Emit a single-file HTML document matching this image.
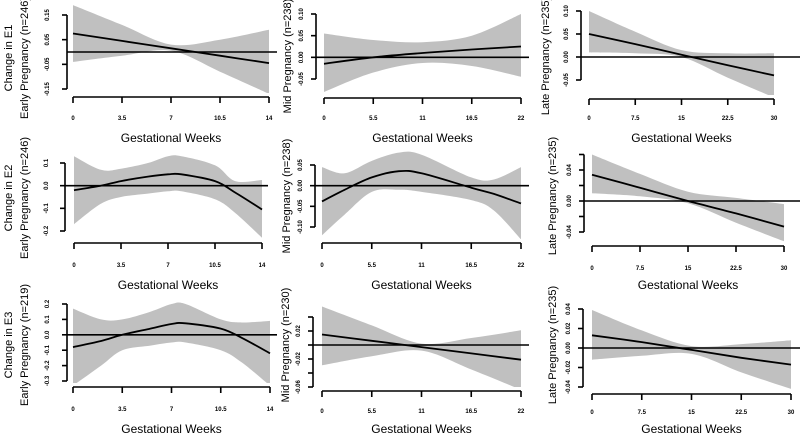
<!DOCTYPE html>
<html><head><meta charset="utf-8"><style>
html,body{margin:0;padding:0;background:#fff}
svg{display:block;font-family:"Liberation Sans",sans-serif}
</style></head><body>
<svg id="fig" width="800" height="439" viewBox="0 0 800 439" xmlns="http://www.w3.org/2000/svg"></svg>
<script>
// ---- data ----
const p1X=[0,3.5,7,10.5,14];
const p1Fit=[0.075,0.045,0.015,-0.015,-0.045];
const p1Up=[0.19,0.11,0.03,0.05,0.09];
const p1Lo=[-0.04,-0.015,0.005,-0.08,-0.17];

const p2X=[0,5.5,11,16.5,22];
const p2Fit=[-0.015,0.0,0.01,0.018,0.025];
const p2Up=[0.055,0.04,0.035,0.05,0.1];
const p2Lo=[-0.08,-0.035,-0.013,-0.02,-0.045];

const p3X=[0,7.5,15,22.5,30];
const p3Fit=[0.05,0.028,0.005,-0.018,-0.04];
const p3Up=[0.1,0.055,0.015,0.008,0.008];
const p3Lo=[0.01,0.008,0.0,-0.045,-0.088];

const p4X=[0,2,3.5,5.5,7,8,10.5,12,14];
const p4Fit=[-0.02,0.0,0.02,0.04,0.05,0.05,0.02,-0.03,-0.105];
const p4Up=[0.13,0.07,0.075,0.1,0.13,0.13,0.09,0.02,0.025];
const p4Lo=[-0.17,-0.08,-0.05,-0.035,-0.025,-0.025,-0.06,-0.12,-0.23];

const p5X=[0,2.5,5.5,8.5,11,16.5,19,22];
const p5Fit=[-0.038,-0.01,0.02,0.035,0.03,-0.005,-0.02,-0.043];
const p5Up=[0.045,0.03,0.06,0.08,0.075,0.02,0.015,0.045];
const p5Lo=[-0.12,-0.07,-0.015,-0.01,-0.015,-0.035,-0.06,-0.13];

const p6X=[0,7.5,15,22.5,30];
const p6Fit=[0.034,0.017,0.0,-0.016,-0.033];
const p6Up=[0.06,0.035,0.012,0.004,-0.004];
const p6Lo=[0.01,0.006,-0.003,-0.028,-0.052];

const p7X=[0,2,3.5,5.5,7,8,10.5,12,14];
const p7Fit=[-0.08,-0.04,0.0,0.04,0.07,0.075,0.04,-0.02,-0.12];
const p7Up=[0.17,0.1,0.1,0.15,0.2,0.2,0.1,0.08,0.09];
const p7Lo=[-0.33,-0.2,-0.1,-0.07,-0.05,-0.05,-0.1,-0.18,-0.33];

const p8X=[0,5.5,11,16.5,22];
const p8Fit=[0.015,0.006,-0.003,-0.012,-0.021];
const p8Up=[0.055,0.028,0.002,0.01,0.021];
const p8Lo=[-0.029,-0.016,-0.008,-0.035,-0.064];

const p9X=[0,7.5,15,22.5,30];
const p9Fit=[0.013,0.006,-0.002,-0.01,-0.017];
const p9Up=[0.039,0.018,0.002,0.004,0.008];
const p9Lo=[-0.012,-0.008,-0.006,-0.025,-0.042];

const xTicksEarly=[0,3.5,7,10.5,14];
const xTicksMid=[0,5.5,11,16.5,22];
const xTicksLate=[0,7.5,15,22.5,30];
const xLabEarly=["0","3.5","7","10.5","14"];
const xLabMid=["0","5.5","11","16.5","22"];
const xLabLate=["0","7.5","15","22.5","30"];

const yT1=[0.15,0.05,-0.05,-0.15], yL1=["0.15","0.05","-0.05","-0.15"];
const yT2=[0.10,0.05,0,-0.05], yL2=["0.10","0.05","0.00","-0.05"];
const yT3=[0.10,0.05,0,-0.05], yL3=["0.10","0.05","0.00","-0.05"];
const yT4=[0.1,0,-0.1,-0.2], yL4=["0.1","0.0","-0.1","-0.2"];
const yT5=[0.05,0,-0.05,-0.10], yL5=["0.05","0.00","-0.05","-0.10"];
const yT6=[0.06,0.04,0.02,0,-0.02,-0.04], yL6=["","0.04","","0.00","","-0.04"];
const yT7=[0.2,0.1,0,-0.1,-0.2,-0.3], yL7=["0.2","0.1","0.0","-0.1","-0.2","-0.3"];
const yT8=[0.04,0.02,0,-0.02,-0.04,-0.06], yL8=["","0.02","","-0.02","","-0.06"];
const yT9=[0.04,0.02,0,-0.02,-0.04], yL9=["0.04","0.02","0.00","-0.02","-0.04"];

// ---- layout ----
const NS="http://www.w3.org/2000/svg";
const svg=document.getElementById('fig');
function mk(tag,attrs,parent){const e=document.createElementNS(NS,tag);for(const k in attrs)e.setAttribute(k,attrs[k]);(parent||svg).appendChild(e);return e;}
function smooth(pts){
  let d="M"+pts[0][0].toFixed(1)+","+pts[0][1].toFixed(1);
  for(let i=0;i<pts.length-1;i++){
    const p0=pts[Math.max(0,i-1)],p1=pts[i],p2=pts[i+1],p3=pts[Math.min(pts.length-1,i+2)];
    const c1=[p1[0]+(p2[0]-p0[0])/6,p1[1]+(p2[1]-p0[1])/6];
    const c2=[p2[0]-(p3[0]-p1[0])/6,p2[1]-(p3[1]-p1[1])/6];
    d+=" C"+c1[0].toFixed(1)+","+c1[1].toFixed(1)+" "+c2[0].toFixed(1)+","+c2[1].toFixed(1)+" "+p2[0].toFixed(1)+","+p2[1].toFixed(1);
  }
  return d;
}
function panel(c){
  const g=mk('g',{});
  
  
  const xs=v=>c.px0+(v-c.xd[0])/(c.xd[1]-c.xd[0])*(c.px1-c.px0);
  const ys=v=>c.yA[1]+(v-c.yA[0])/(c.yB[0]-c.yA[0])*(c.yB[1]-c.yA[1]);
  const clipId='clip'+c.name;
  const cp=mk('clipPath',{id:clipId},g);
  mk('rect',{x:c.axX,y:c.top,width:c.hEnd-c.axX,height:c.xAxY-4-c.top},cp);
  const pg=mk('g',{'clip-path':'url(#'+clipId+')'},g);
  const up=c.X.map((x,i)=>[xs(x),ys(c.up[i])]);
  const lo=c.X.map((x,i)=>[xs(x),ys(c.lo[i])]).reverse();
  let d=smooth(up);
  d+=" L"+lo[0][0].toFixed(1)+","+lo[0][1].toFixed(1)+smooth(lo).replace(/^M[^ C]+/,"")+" Z";
  const band=mk('path',{d:d,fill:'#c0c0c0',stroke:'none'},pg);
  
  
  const zl=mk('line',{x1:c.axX,x2:c.hEnd,y1:ys(0),y2:ys(0),stroke:'#000','stroke-width':1.6},g);
  
  
  const fit=mk('path',{d:smooth(c.X.map((x,i)=>[xs(x),ys(c.fit[i])])),fill:'none',stroke:'#000','stroke-width':1.8},pg);
  
  
  const yv=c.yT.map(ys);
  const ya=mk('g',{},g);
  
  
  mk('line',{x1:c.axX,x2:c.axX,y1:Math.min(...yv),y2:Math.max(...yv),stroke:'#000','stroke-width':1.6},ya);
  c.yT.forEach((t,i)=>{
    mk('line',{x1:c.axX-5,x2:c.axX,y1:ys(t),y2:ys(t),stroke:'#000','stroke-width':1.6},ya);
    if(c.yL[i]){
      const tx=mk('text',{x:c.axX-c.yLabOff,y:ys(t),'font-size':6,'font-weight':'bold','text-anchor':'middle',transform:'rotate(-90 '+(c.axX-c.yLabOff)+' '+ys(t)+')'},ya);
      tx.textContent=c.yL[i];
      
      
    }
  });
  const xa=mk('g',{},g);
  
  
  mk('line',{x1:xs(c.xT[0]),x2:xs(c.xT[c.xT.length-1]),y1:c.xAxY,y2:c.xAxY,stroke:'#000','stroke-width':1.6},xa);
  c.xT.forEach((t,i)=>{
    mk('line',{x1:xs(t),x2:xs(t),y1:c.xAxY,y2:c.xAxY+6,stroke:'#000','stroke-width':1.6},xa);
    const tx=mk('text',{x:xs(t),y:c.xLabY,'font-size':6,'font-weight':'bold','text-anchor':'middle'},xa);
    tx.textContent=c.xL[i];
    
    
  });
  const tt=mk('text',{x:(c.px0+c.px1)/2,y:c.titleY,'font-size':12,'text-anchor':'middle'},g);
  tt.textContent='Gestational Weeks';
  
  
  const yl=mk('text',{x:c.ylx,y:c.yly,'font-size':11,'text-anchor':'middle',transform:'rotate(-90 '+c.ylx+' '+c.yly+')'},g);
  yl.textContent=c.ylab;
  
  
  if(c.outer){
    const ol=mk('text',{x:c.olx,y:c.yly,'font-size':11,'text-anchor':'middle',transform:'rotate(-90 '+c.olx+' '+c.yly+')'},g);
    ol.textContent=c.outer;
    
    
  }
}
panel({name:'panel-e1-early',X:p1X,fit:p1Fit,up:p1Up,lo:p1Lo,xd:[0,14],px0:73,px1:269,yA:[0.15,15],yB:[-0.15,89],axX:67,hEnd:277,top:0,xAxY:97,xLabY:120,titleY:142,yT:yT1,yL:yL1,xT:xTicksEarly,xL:xLabEarly,yLabOff:18,ylab:'Early Pregnancy (n=246)',ylx:28,yly:58,outer:'Change in E1',olx:12});
panel({name:'panel-e1-mid',X:p2X,fit:p2Fit,up:p2Up,lo:p2Lo,xd:[0,22],px0:324,px1:521,yA:[0.10,14],yB:[-0.05,79],axX:316,hEnd:529,top:0,xAxY:98,xLabY:120,titleY:142,yT:yT2,yL:yL2,xT:xTicksMid,xL:xLabMid,yLabOff:13,ylab:'Mid Pregnancy (n=238)',ylx:291,yly:56});
panel({name:'panel-e1-late',X:p3X,fit:p3Fit,up:p3Up,lo:p3Lo,xd:[0,30],px0:589,px1:774,yA:[0.10,11],yB:[-0.05,80],axX:581,hEnd:800,top:0,xAxY:99,xLabY:120,titleY:142,yT:yT3,yL:yL3,xT:xTicksLate,xL:xLabLate,yLabOff:13,ylab:'Late Pregnancy (n=235)',ylx:549,yly:56});
panel({name:'panel-e2-early',X:p4X,fit:p4Fit,up:p4Up,lo:p4Lo,xd:[0,14],px0:74,px1:262,yA:[0.1,163],yB:[-0.2,231],axX:65,hEnd:268,top:148,xAxY:243,xLabY:267,titleY:289,yT:yT4,yL:yL4,xT:xTicksEarly,xL:xLabEarly,yLabOff:17,ylab:'Early Pregnancy (n=246)',ylx:28,yly:198,outer:'Change in E2',olx:12});
panel({name:'panel-e2-mid',X:p5X,fit:p5Fit,up:p5Up,lo:p5Lo,xd:[0,22],px0:322,px1:521,yA:[0.05,165],yB:[-0.10,227],axX:315,hEnd:529,top:148,xAxY:243,xLabY:267,titleY:289,yT:yT5,yL:yL5,xT:xTicksMid,xL:xLabMid,yLabOff:13,ylab:'Mid Pregnancy (n=238)',ylx:290,yly:196});
panel({name:'panel-e2-late',X:p6X,fit:p6Fit,up:p6Up,lo:p6Lo,xd:[0,30],px0:592,px1:784,yA:[0.04,170],yB:[-0.04,232],axX:584,hEnd:800,top:148,xAxY:246,xLabY:270,titleY:289,yT:yT6,yL:yL6,xT:xTicksLate,xL:xLabLate,yLabOff:13,ylab:'Late Pregnancy (n=235)',ylx:556,yly:196});
panel({name:'panel-e3-early',X:p7X,fit:p7Fit,up:p7Up,lo:p7Lo,xd:[0,14],px0:73,px1:270,yA:[0.2,304],yB:[-0.3,381],axX:67,hEnd:277,top:298,xAxY:387,xLabY:411,titleY:433,yT:yT7,yL:yL7,xT:xTicksEarly,xL:xLabEarly,yLabOff:18,ylab:'Early Pregnancy (n=219)',ylx:28,yly:345,outer:'Change in E3',olx:12});
panel({name:'panel-e3-mid',X:p8X,fit:p8Fit,up:p8Up,lo:p8Lo,xd:[0,22],px0:322,px1:521,yA:[0.02,331],yB:[-0.02,359],axX:313,hEnd:529,top:298,xAxY:391,xLabY:413,titleY:433,yT:yT8,yL:yL8,xT:xTicksMid,xL:xLabMid,yLabOff:13,ylab:'Mid Pregnancy (n=230)',ylx:289,yly:345});
panel({name:'panel-e3-late',X:p9X,fit:p9Fit,up:p9Up,lo:p9Lo,xd:[0,30],px0:592,px1:791,yA:[0.04,309],yB:[-0.04,387],axX:583,hEnd:800,top:298,xAxY:394,xLabY:414,titleY:433,yT:yT9,yL:yL9,xT:xTicksLate,xL:xLabLate,yLabOff:13,ylab:'Late Pregnancy (n=235)',ylx:556,yly:345});
</script>
</body></html>
